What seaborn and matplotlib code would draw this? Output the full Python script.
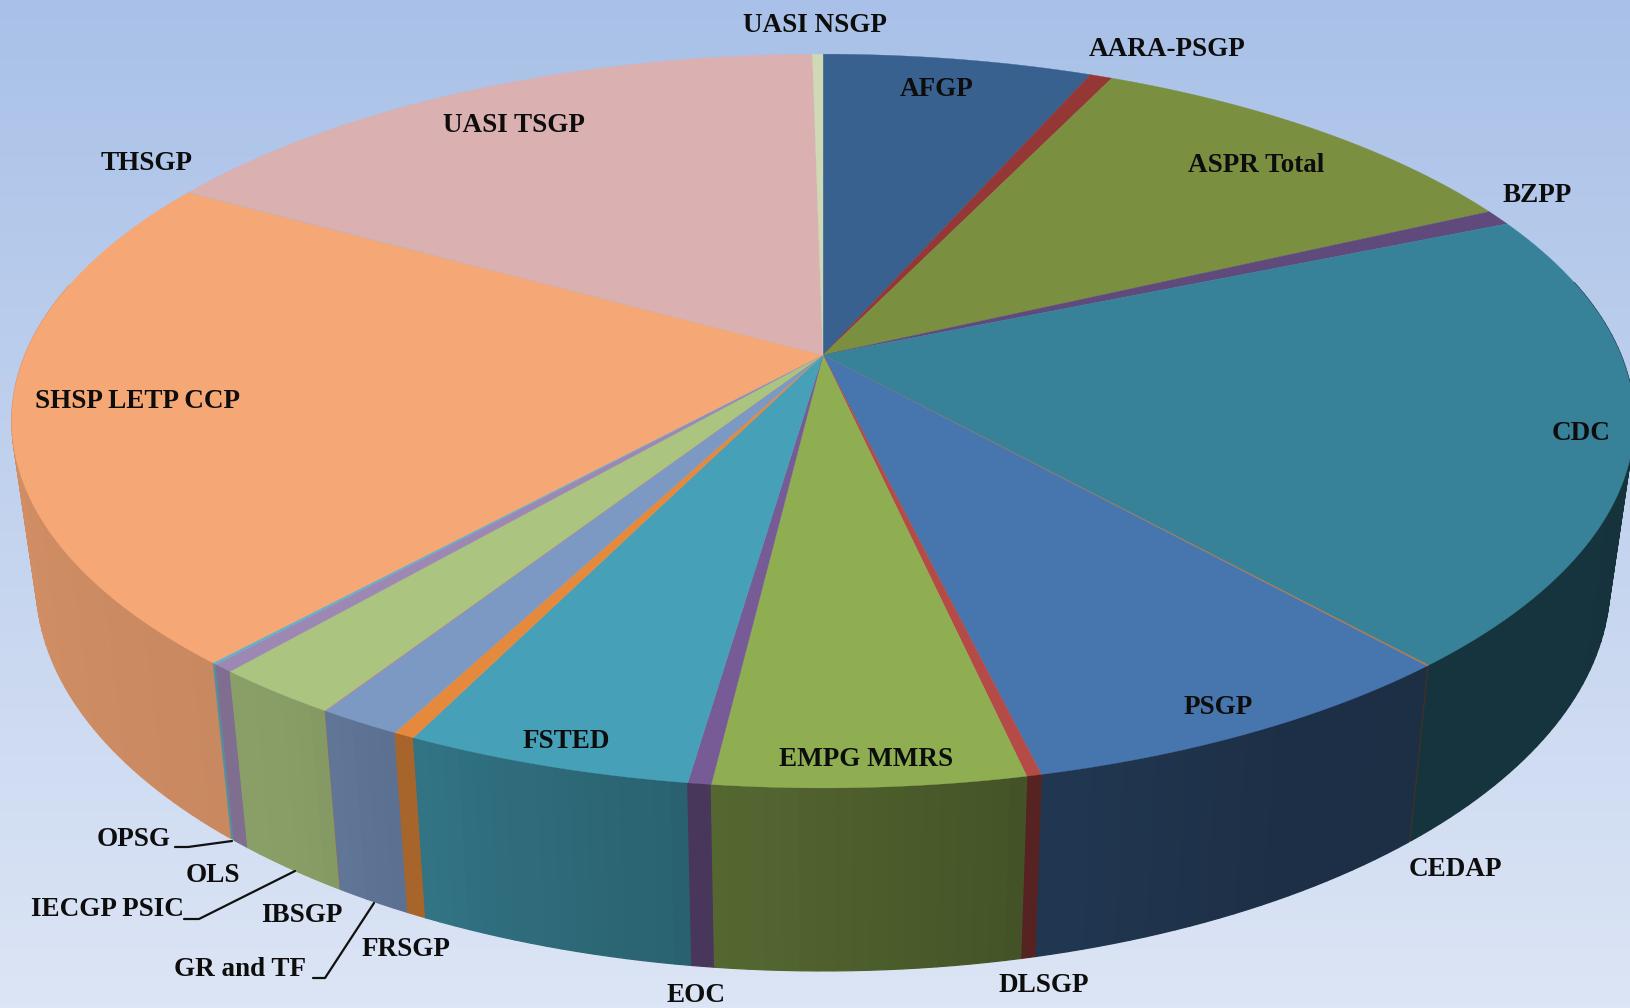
import numpy as np
import matplotlib
matplotlib.use('Agg')
import matplotlib.pyplot as plt
import seaborn as sns

# programmes, clockwise from 12 o'clock
labels = ['AFGP', 'AARA-PSGP', 'ASPR Total', 'BZPP', 'CDC', 'CEDAP', 'PSGP', 'DLSGP',
          'EMPG MMRS', 'EOC', 'FSTED', 'FRSGP', 'GR and TF', 'IBSGP', 'IECGP PSIC',
          'OLS', 'OPSG', 'SHSP LETP CCP', 'THSGP', 'UASI TSGP', 'UASI NSGP']
# share of the total, percent
shares = [6.39, 0.53, 10.92, 0.69, 20.11, 0.04, 7.72, 0.25,
          5.21, 0.39, 4.85, 0.36, 1.42, 0.02, 2.19,
          0.36, 0.08, 21.83, 0.02, 16.42, 0.25]
top_colors = ['#386190', '#953735', '#7b8f41', '#604a7b', '#378299', '#c0773a', '#4775ae', '#b54b47',
              '#8fae52', '#775b96', '#45a0b8', '#e58a3d', '#7c99c4', '#c57f7d', '#abc480',
              '#9c88b2', '#6aafc5', '#f6a776', '#a3b9da', '#dab0b0', '#cfdab4']

# how dark the rim gets going round the pie
shade_angles = [60, 150, 167, 187, 200, 210, 215, 225, 270, 300]
shade_factors = [0.39, 0.40, 0.47, 0.60, 0.68, 0.76, 0.80, 0.82, 0.87, 0.87]

label_pos = [(937, 89), (1167, 50), (1256, 165), (1537, 196), (1581, 434), (1455, 869), (1218, 707), (1044, 986),
             (866, 759), (696, 995), (566, 741), (406, 950), (240, 970), (302, 916), (107, 910),
             (213, 875), (134, 839), (138, 401), (147, 164), (514, 125), (815, 25)]

# leader lines
leaders = [([175, 188, 232], [847, 847, 841]),
           ([184, 199, 295], [919, 919, 871]),
           ([313, 325, 374], [978, 978, 903])]

bg_colors = ['#a9c1e8', '#dce5f5']

# perspective of the top disc, in pixels
cx, cy = 823, 355
R, S, k = 798, 355, 0.18
# bottom disc relative to the top one
x_scale, y_scale, y_shift = 0.97, 1.058, 137.3


def top_xy(deg):
    t = np.radians(deg)
    u, v = np.sin(t), np.cos(t)
    return cx + R * u / (1 + k * v), cy - S * v / (1 + k * v)


def bottom_xy(deg):
    x, y = top_xy(deg)
    return cx + x_scale * (x - cx), y_scale * y + y_shift


def darker(color, f):
    r, g, b = matplotlib.colors.to_rgb(color)
    return (r * f, g * f, b * f)


def main():
    sns.set_theme(style='white')
    plt.rcParams['font.family'] = ['Liberation Serif', 'DejaVu Serif']

    fig = plt.figure(figsize=(16.31, 10.08), dpi=100)
    ax = fig.add_axes([0, 0, 1, 1])

    cmap = sns.blend_palette(bg_colors, n_colors=256, as_cmap=True)
    ax.imshow(np.linspace(0, 1, 256).reshape(-1, 1), cmap=cmap, aspect='auto',
              extent=(0, 1631, 1008, 0), zorder=0)

    edges = np.concatenate([[0], np.cumsum(shares)]) / np.sum(shares) * 360

    # rim strips, back to front on both sides
    strips = []
    for i, color in enumerate(top_colors):
        a0, a1 = edges[i], edges[i + 1]
        n = max(int((a1 - a0) / 1.0), 1)
        steps = np.linspace(a0, a1, n + 1)
        for s0, s1 in zip(steps[:-1], steps[1:]):
            mid = (s0 + s1) / 2
            if 78 < mid < 282:
                strips.append((abs(mid - 180), s0, s1, color, a1 - a0 > 0.5))
    strips.sort(key=lambda s: -s[0])
    for _, s0, s1, color, wide in strips:
        shade = darker(color, np.interp((s0 + s1) / 2, shade_angles, shade_factors))
        xt, yt = top_xy(np.array([s0, s1]))
        xb, yb = bottom_xy(np.array([s1, s0]))
        # the edge closes the hairline seams between strips
        ax.fill(np.r_[xt, xb], np.r_[yt, yb], color=shade, lw=0.9 if wide else 0.2, zorder=1)

    # top of the pie
    for i, color in enumerate(top_colors):
        arc = np.linspace(edges[i], edges[i + 1], max(int(edges[i + 1] - edges[i]) * 2, 2))
        xs, ys = top_xy(arc)
        ax.fill(np.r_[cx, xs], np.r_[cy, ys], color=color, lw=0.25, zorder=2)

    for xs, ys in leaders:
        sns.lineplot(x=xs, y=ys, sort=False, estimator=None, color='#111111', lw=1.6, ax=ax, zorder=3)

    for name, (x, y) in zip(labels, label_pos):
        ax.text(x, y, name, ha='center', va='center', fontsize=19.5, fontweight='bold',
                color='#0d0d0d', zorder=4)

    ax.set_xlim(0, 1631)
    ax.set_ylim(1008, 0)
    ax.axis('off')
    fig.savefig('out.png', dpi=100)
    plt.close(fig)


if __name__ == '__main__':
    main()
